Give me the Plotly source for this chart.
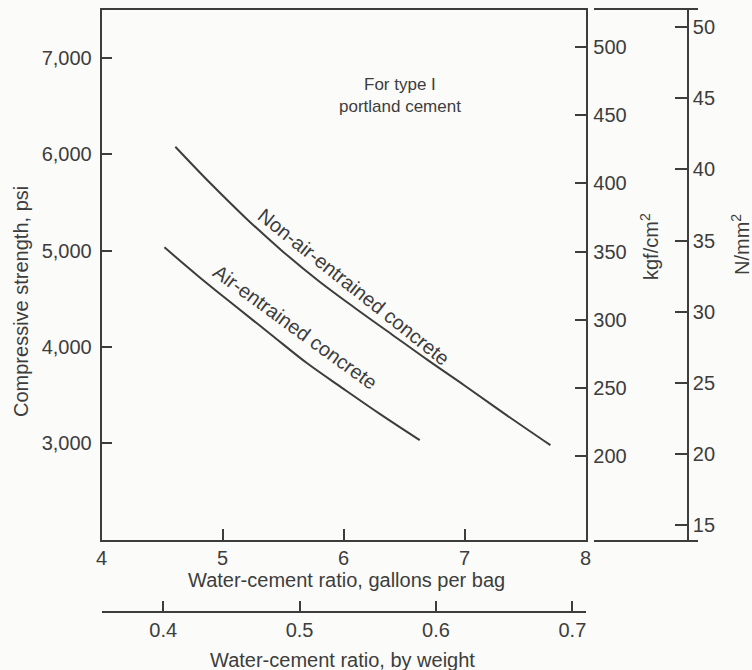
import plotly.graph_objects as go

# ---------------- data ----------------
non_air_gal = [4.61, 4.9, 5.2, 5.5, 5.8, 6.1, 6.4, 6.7, 7.0, 7.35, 7.71]
non_air_psi = [6080, 5700, 5330, 4990, 4680, 4400, 4130, 3860, 3600, 3290, 2980]

air_gal = [4.52, 4.8, 5.1, 5.4, 5.7, 6.0, 6.3, 6.63]
air_psi = [5035, 4735, 4430, 4130, 3830, 3565, 3305, 3032]

gal_ticks = [4, 5, 6, 7, 8]
ratio_ticks = [0.4, 0.5, 0.6, 0.7]
ratio_labels = ["0.4", "0.5", "0.6", "0.7"]
psi_ticks = [3000, 4000, 5000, 6000, 7000]
psi_labels = ["3,000", "4,000", "5,000", "6,000", "7,000"]
kgf_ticks = [200, 250, 300, 350, 400, 450, 500]
nmm_ticks = [15, 20, 25, 30, 35, 40, 45, 50]

GAL_RANGE = [4, 8]
PSI_RANGE = [2000, 7500]
GAL_TO_RATIO = 0.0887
KGF_RANGE = [139, 527]
NMM_RANGE = [14.0, 51.2]

# ---------------- styling ----------------
W, H = 752, 670
INK = "#3d3d3d"
FONT = "Liberation Sans, Arial, sans-serif"
FS = 20

def px_x(p):
    return p / W

def px_y(p):
    return 1 - p / H

x_dom = [px_x(101.5), px_x(585.5)]
y_dom = [px_y(539.5), px_y(10)]

fig = go.Figure()

line_style = dict(color=INK, width=2, shape="spline", smoothing=1.0)
fig.add_trace(go.Scatter(x=non_air_gal, y=non_air_psi, mode="lines",
                         line=line_style, hoverinfo="skip", showlegend=False))
fig.add_trace(go.Scatter(x=air_gal, y=air_psi, mode="lines",
                         line=line_style, hoverinfo="skip", showlegend=False))

axis_common = dict(showgrid=False, zeroline=False, showline=True, linecolor=INK,
                   linewidth=1.6, ticks="inside", tickcolor=INK, tickwidth=1.6,
                   tickfont=dict(family=FONT, size=FS, color=INK), automargin=False)

fig.update_layout(
    width=W, height=H,
    margin=dict(l=0, r=0, t=0, b=0),
    paper_bgcolor="#fbfbf9", plot_bgcolor="rgba(0,0,0,0)",
    font=dict(family=FONT, size=FS, color=INK),
    showlegend=False,
    xaxis=dict(**axis_common, domain=x_dom, range=GAL_RANGE, anchor="y",
               tickvals=gal_ticks, ticklen=11, mirror=True),
    xaxis2=dict(**axis_common, overlaying="x", anchor="free", position=px_y(611.7),
                side="bottom",
                range=[GAL_RANGE[0] * GAL_TO_RATIO, GAL_RANGE[1] * GAL_TO_RATIO],
                tickvals=ratio_ticks, ticktext=ratio_labels, ticklen=10),
    xaxis3=dict(showgrid=False, zeroline=False, showline=True, linecolor=INK,
                linewidth=1.6, mirror=True, showticklabels=False, ticks="",
                domain=[px_x(594), px_x(698)], anchor="y", range=[0, 1]),
    yaxis=dict(**axis_common, domain=y_dom, range=PSI_RANGE, anchor="x",
               tickvals=psi_ticks, ticktext=psi_labels, ticklen=11,
               ticklabelstandoff=4),
    yaxis2=dict(**axis_common, overlaying="y", side="right", anchor="x",
                range=KGF_RANGE, tickvals=kgf_ticks, ticklen=11,
                ticklabelstandoff=2),
    yaxis3=dict(**axis_common, overlaying="y", side="right", anchor="free",
                position=px_x(688), range=NMM_RANGE, tickvals=nmm_ticks, ticklen=12),
)

# empty traces so the secondary axes are drawn
fig.add_trace(go.Scatter(x=[None], y=[None], xaxis="x2", yaxis="y2", showlegend=False))
fig.add_trace(go.Scatter(x=[None], y=[None], xaxis="x3", yaxis="y3", showlegend=False))

txt = dict(family=FONT, size=FS, color=INK)
note = dict(family=FONT, size=17, color=INK)
base = dict(showarrow=False, xanchor="center", yanchor="middle")
ann = [
    dict(text="For type I", x=6.47, y=6725, xref="x", yref="y", font=note, **base),
    dict(text="portland cement", x=6.47, y=6500, xref="x", yref="y", font=note, **base),
    dict(text="Non-air-entrained concrete", x=6.088, y=4626, xref="x", yref="y",
         textangle=38.5, font=txt, **base),
    dict(text="Air-entrained concrete", x=5.60, y=4210, xref="x", yref="y",
         textangle=36, font=txt, **base),
    dict(text="Water-cement ratio, gallons per bag", x=px_x(346), y=px_y(580),
         xref="paper", yref="paper", font=txt, **base),
    dict(text="Water-cement ratio, by weight", x=px_x(342), y=px_y(660),
         xref="paper", yref="paper", font=txt, **base),
    dict(text="Compressive strength, psi", x=px_x(21), y=px_y(302),
         xref="paper", yref="paper", textangle=-90, font=txt, **base),
    dict(text="kgf/cm<sup>2</sup>", x=px_x(650), y=px_y(247),
         xref="paper", yref="paper", textangle=-90, font=txt, **base),
    dict(text="N/mm<sup>2</sup>", x=px_x(740), y=px_y(245),
         xref="paper", yref="paper", textangle=-90, font=txt, **base),
]
fig.update_layout(annotations=ann)

fig.write_html("out.html", config={"displayModeBar": False},
               post_script="document.body.style.margin='0';document.body.style.background='#fbfbf9';")
